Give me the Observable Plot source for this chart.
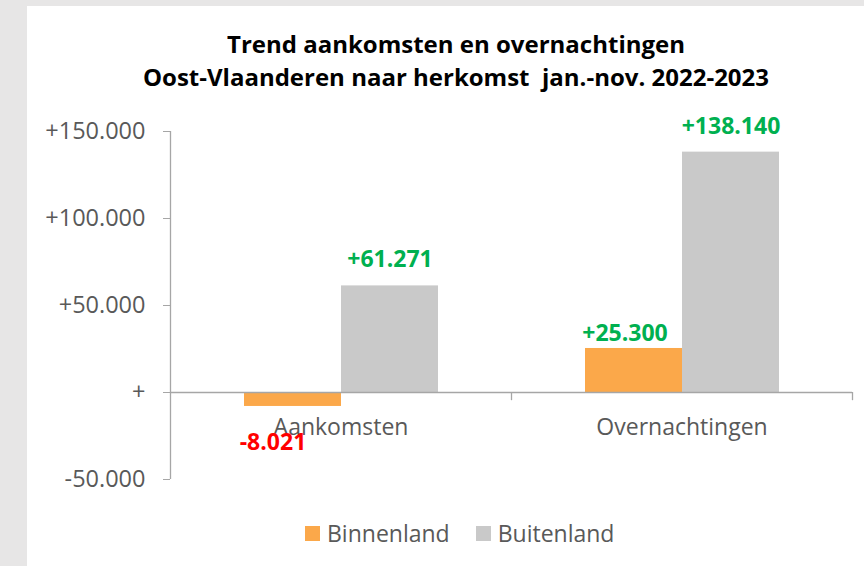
<!DOCTYPE html>
<html>
<head>
<meta charset="utf-8">
<script src="https://cdn.jsdelivr.net/npm/d3@7"></script>
<script src="https://cdn.jsdelivr.net/npm/@observablehq/plot@0.6"></script>
<style>
  html, body { margin: 0; padding: 0; }
  body { width: 864px; height: 566px; overflow: hidden; background: #e7e6e6; position: relative; font-family: "Open Sans", sans-serif; }
  #panel { position: absolute; left: 27px; top: 6px; width: 900px; height: 600px; background: #ffffff; }
  #title { position: absolute; left: 0; top: 0; width: 858px; height: 94px; text-align: center; font-weight: bold; font-size: 24px; line-height: 33px; color: #000; white-space: pre; padding-top: 21px; box-sizing: border-box; }
  #chart { position: absolute; left: 0; top: 94px; }
  #legend { position: absolute; left: 278px; top: 511px; display: flex; align-items: center; font-size: 23px; color: #595959; }
  .item { display: flex; align-items: center; margin-right: 26px; }
  .sw { width: 15px; height: 15px; margin-right: 7px; }
</style>
</head>
<body>
<div id="panel">
  <div id="title"></div>
  <div id="chart"></div>
  <div id="legend"></div>
</div>
<script>
const titleLines = ["Trend aankomsten en overnachtingen", "Oost-Vlaanderen naar herkomst  jan.-nov. 2022-2023"];
const categories = ["Aankomsten", "Overnachtingen"];
const series = ["Binnenland", "Buitenland"];
const binnenland = [-8021, 25300];
const buitenland = [61271, 138140];
const yTicks = [-50000, 0, 50000, 100000, 150000];
const colors = ["#fba84a", "#c9c9c9"];

document.getElementById("title").textContent = titleLines.join("\n");

const data = categories.flatMap((c, i) => [
  {cat: c, series: series[0], value: binnenland[i]},
  {cat: c, series: series[1], value: buitenland[i]}
]);

const fmt = d => d === 0 ? "+" : (d > 0 ? "+" : "-") + d3.format(",")(Math.abs(d)).replace(/,/g, ".");
const axisGray = "#a6a6a6";
const textGray = "#595959";
const labelColor = d => d.value >= 0 ? "#00b050" : "#ff0000";

const chart = Plot.plot({
  width: 837,
  height: 400,
  marginLeft: 143,
  marginRight: 12,
  marginTop: 31,
  marginBottom: 21,
  style: {fontFamily: "'Open Sans', sans-serif", background: "transparent", overflow: "visible"},
  x: {type: "band", domain: categories, padding: 0, axis: null},
  y: {domain: [-50000, 150000], axis: null},
  color: {domain: series, range: colors},
  marks: [
    Plot.axisY({ticks: yTicks, tickFormat: fmt, tickSize: 7, tickPadding: 18, label: null, fontSize: 23.5, color: textGray, stroke: axisGray}),
    Plot.barY(data.filter(d => d.series === series[0]), {x: "cat", y: "value", fill: colors[0], insetLeft: 74, insetRight: 170}),
    Plot.barY(data.filter(d => d.series === series[1]), {x: "cat", y: "value", fill: colors[1], insetLeft: 171, insetRight: 73}),
    Plot.ruleY([0], {stroke: axisGray, strokeWidth: 1.3}),
    Plot.ruleX(categories.slice(0, 1), {x: d => d, dx: -170.5, y1: -50000, y2: 150000, stroke: axisGray, strokeWidth: 1.3}),
    Plot.ruleX(categories, {x: d => d, dx: 170.5, y1: 0, y2: -4700, stroke: axisGray, strokeWidth: 1.3}),
    Plot.text(categories, {x: d => d, y: 0, dy: 35, text: d => d, fontSize: 23, fill: textGray}),
    Plot.text(data.filter(d => d.series === series[1]), {x: "cat", y: "value", text: d => fmt(d.value), dx: 49, dy: -26, fill: labelColor, fontWeight: "bold", fontSize: 23}),
    Plot.text(data.filter(d => d.series === series[0] && d.value >= 0), {x: "cat", y: "value", text: d => fmt(d.value), dx: -57, dy: -15, fill: labelColor, fontWeight: "bold", fontSize: 23}),
    Plot.text(data.filter(d => d.series === series[0] && d.value < 0), {x: "cat", y: "value", text: d => fmt(d.value), dx: -68, dy: 36, fill: labelColor, fontWeight: "bold", fontSize: 23})
  ]
});
document.getElementById("chart").appendChild(chart);

const legend = document.getElementById("legend");
series.forEach((s, i) => {
  const item = document.createElement("div");
  item.className = "item";
  const sw = document.createElement("div");
  sw.className = "sw";
  sw.style.background = colors[i];
  const t = document.createElement("span");
  t.textContent = s;
  item.appendChild(sw);
  item.appendChild(t);
  legend.appendChild(item);
});
</script>
</body>
</html>
